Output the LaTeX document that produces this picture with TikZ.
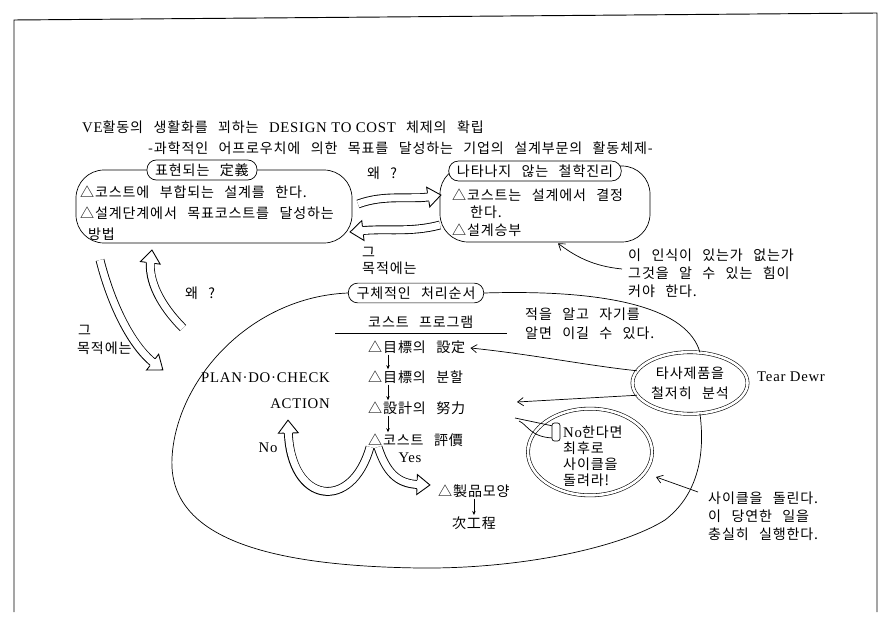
\documentclass[tikz,border=0pt]{standalone}
\usepackage{fontspec}
\setmainfont{Noto Sans CJK KR}[LetterSpace=6, WordSpace=2.6]
\newfontfamily\lat{Liberation Serif}[Scale=1.05, LetterSpace=5]
\usetikzlibrary{arrows.meta,decorations.markings,shapes.geometric,calc}
\tikzset{
 txt/.style={inner sep=0pt, anchor=west},
 ctxt/.style={inner sep=0pt},
 ln/.style={line width=0.6pt},
 tabbox/.style={draw, line width=0.6pt, fill=white, rounded corners=8pt, inner xsep=7pt, inner ysep=3pt},
 bx/.style={draw, line width=0.6pt, rounded corners=24pt},
 sarr/.style={line width=0.6pt, -{Straight Barb[length=5pt,width=7pt]}},
 darr/.style={line width=0.6pt, -{Stealth[length=3.5pt,width=3pt]}},
 dbl/.style={draw, ellipse, line width=0.5pt, double, double distance=2.2pt, inner sep=0pt},
 hollow/.style={line cap=butt,
   preaction={draw, line width=7.5pt, shorten >=9pt},
   preaction={draw, white, line width=6pt, shorten >=8pt},
   postaction={decorate, decoration={markings, mark=at position 0.999 with {
      \fill[white] (-11pt,-8.5pt) -- (0pt,0pt) -- (-11pt,8.5pt) -- cycle;
      \draw[line width=0.75pt, line join=miter] (-11pt,-3.75pt) -- (-11pt,-8.5pt) -- (0pt,0pt) -- (-11pt,8.5pt) -- (-11pt,3.75pt);}}}}
}
\begin{document}
\begin{tikzpicture}[x=0.03cm,y=-0.03cm, font=\fontsize{12pt}{13.5pt}\selectfont]
\useasboundingbox (0,0) rectangle (891,622);
% frame
\draw[line width=0.8pt] (14,612) -- (14,20) -- (877,13) -- (877,612);

% titles
\node[txt] (title) at (82,127) {{\lat VE}활동의 생활화를 꾀하는 {\lat DESIGN TO COST} 체제의 확립};
\node[txt] (sub) at (148,148) {-과학적인 어프로우치에 의한 목표를 달성하는 기업의 설계부문의 활동체제-};

% left box
\node[bx, minimum width=8.28cm, minimum height=2.19cm] (lbox) at (214,206.5) {};
\node[tabbox] (ltab) at (202,170) {표현되는 定義};
\node[txt] (l1) at (80,192) {△코스트에 부합되는 설계를 한다.};
\node[txt] (l2) at (80,213) {△설계단계에서 목표코스트를 달성하는};
\node[txt] (l3) at (88,234) {방법};

% right box
\node[bx, minimum width=6.3cm, minimum height=2.28cm] (rbox) at (545,204) {};
\node[tabbox] (rtab) at (535,171) {나타나지 않는 철학진리};
\node[txt] (r1) at (452,195) {△코스트는 설계에서 결정};
\node[txt] (r2) at (470,212) {한다.};
\node[txt] (r3) at (452,230) {△설계승부};

\node[ctxt] (why1) at (382,173) {왜 ?};

% hollow arrows between boxes
\coordinate (h1s) at (358,204); \coordinate (h1e) at (441,195);
\coordinate (h2s) at (440,225); \coordinate (h2e) at (350,232);
\path[hollow] (h1s) .. controls (385,194) and (410,200) .. (h1e);
\path[hollow] (h2s) .. controls (410,233) and (385,228) .. (h2e);

% annotation
\node[txt] (a1) at (628,255) {이 인식이 있는가 없는가};
\node[txt] (a2) at (628,273) {그것을 알 수 있는 힘이};
\node[txt] (a3) at (628,291) {커야 한다.};
\draw[sarr] ($(a2.west)+(-6,-4)$) .. controls (592,266) and (575,256) .. ($(rbox.south)+(13,1)$);

% left hollow arrows
\coordinate (d1s) at (100,260); \coordinate (d1e) at (163,370);
\path[hollow] (d1s) .. controls (110,300) and (130,345) .. (d1e);
\coordinate (u1s) at (183,328); \coordinate (u1e) at (152,250);
\path[hollow] (u1s) .. controls (160,305) and (148,280) .. (u1e);
\node[ctxt] (why2) at (200,293) {왜 ?};
\node[txt] (g1) at (78,330) {그};
\node[txt] (g2) at (77,348) {목적에는};

% centre column
\node[txt] (c1) at (362,252) {그};
\node[txt] (c2) at (362,268) {목적에는};
\node[tabbox] (qtab) at (416,293) {구체적인 처리순서};
\node[txt] (prog) at (368,322) {코스트 프로그램};
\draw[ln] (335,333) -- (507,333);
\node[txt] (s1) at (368,347) {△目標의 設定};
\node[txt] (s2) at (368,377) {△目標의 분할};
\node[txt] (s3) at (368,408) {△設計의 努力};
\node[txt] (s4) at (368,440) {△코스트 評價};
\draw[darr] ($(s1.south west)+(20,1)$) -- ($(s2.north west)+(20,-1)$);
\draw[darr] ($(s2.south west)+(20,1)$) -- ($(s3.north west)+(20,-1)$);
\draw[darr] ($(s3.south west)+(20,1)$) -- ($(s4.north west)+(20,-1)$);
\node[ctxt] (yes) at (410,458) {\lat Yes};
\node[txt] (prod) at (438,491) {△製品모양};
\path (prod.south) ++(0,25) node[ctxt] (next) {次工程};
\draw[darr] ($(prod.south)+(0,1)$) -- ($(next.north)+(0,-1)$);

% PDCA
\node[anchor=east, inner sep=0pt] (pdc) at (330,378) {\lat PLAN·DO·CHECK};
\node[anchor=east, inner sep=0pt] (act) at (330,404) {\lat ACTION};
\node[ctxt] (no) at (268,448) {\lat No};
\coordinate (ns) at (370,447); \coordinate (ne) at (288,420);
\path[hollow] (ns) .. controls (352,512) and (290,505) .. (ne);
\coordinate (ys) at (378,447); \coordinate (ye) at (430,485);
\path[hollow] (ys) .. controls (388,478) and (402,484) .. (ye);

% enemy text
\node[txt] (e1) at (525,314) {적을 알고 자기를};
\node[txt] (e2) at (525,333) {알면 이길 수 있다.};

% analysis ellipse
\node[dbl, minimum width=3.45cm, minimum height=1.85cm, align=center, font=\fontsize{12pt}{17pt}\selectfont] (tasa) at (690,383) {타사제품을\\철저히 분석};
\node[txt] (tear) at (757,377) {\lat Tear Dewr};
\coordinate (t2e) at (517,402);
\draw[sarr] (tasa.167) .. controls (590,366) and (530,354) .. ($(s1.east)+(5,1)$);
\draw[sarr] (tasa.193) -- (t2e);

% big loop
\draw[ln] (qtab.west) .. controls (250,297) and (176,380) .. (172,458)
  .. controls (168,535) and (260,566) .. (420,568)
  .. controls (520,569) and (620,548) .. (665,520)
  .. controls (695,497) and (706,460) .. (tasa.-72);
\draw[ln] (qtab.east) .. controls (615,289) and (688,310) .. (tasa.72);

% bubble
\node[dbl, minimum width=3.72cm, minimum height=2.6cm] (bub) at (590,452) {};
\node[txt, align=left, font=\fontsize{12pt}{13.7pt}\selectfont] (bubt) at (563,456) {{\lat No}한다면\\최후로\\사이클을\\돌려라!};
\draw[ln] (515,418) -- (553,426);
\draw[ln] (519,421) .. controls (528,425) and (530,437) .. (553,438);
\draw[ln, rounded corners=2pt, fill=white] (552,423) rectangle (560,441);

% cycle text
\node[txt] (y1) at (708,498) {사이클을 돌린다.};
\node[txt] (y2) at (708,516) {이 당연한 일을};
\node[txt] (y3) at (708,534) {충실히 실행한다.};
\coordinate (ye2) at (656,477);
\draw[sarr] ($(y1.west)+(-10,-6)$) -- (ye2);
\end{tikzpicture}
\end{document}
